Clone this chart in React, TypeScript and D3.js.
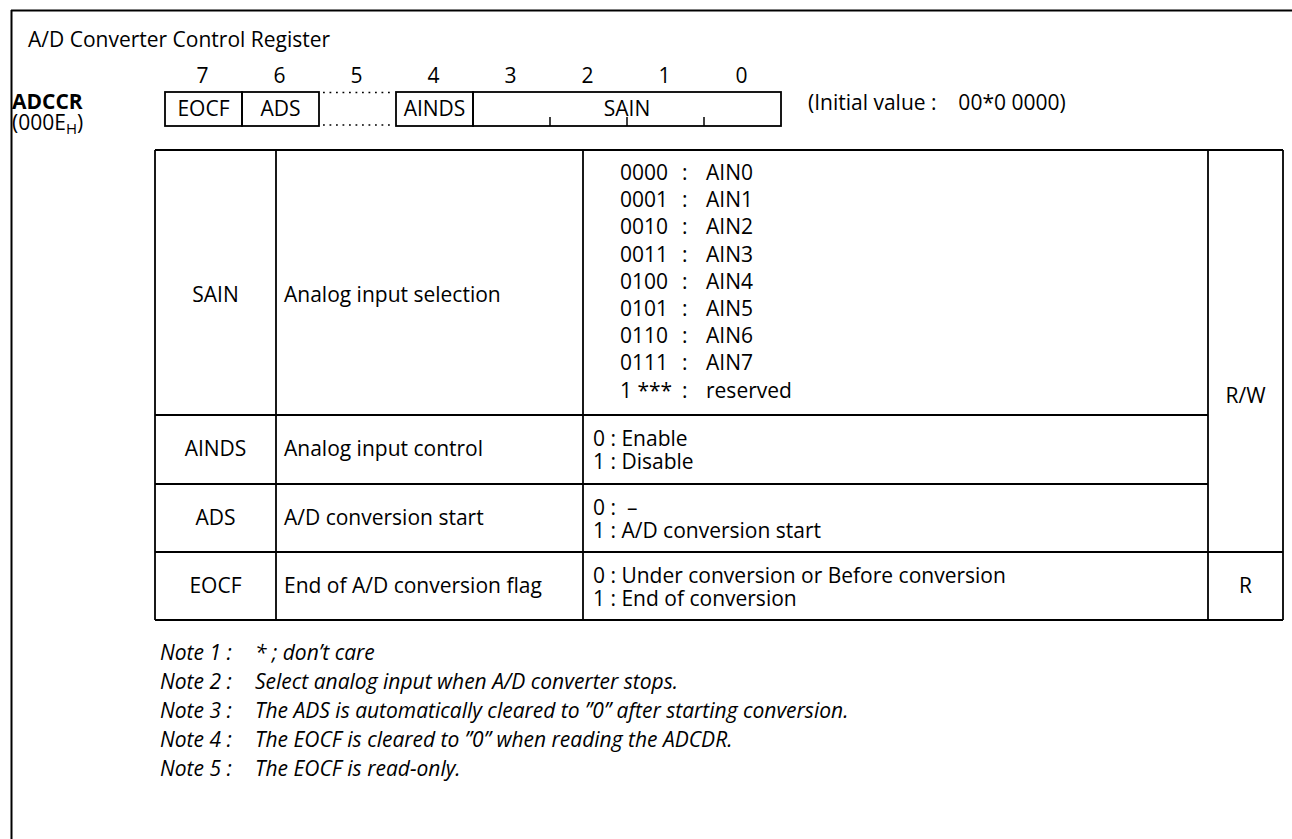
import React, { useEffect, useRef } from "react";
import * as d3 from "d3";

const title = "A/D Converter Control Register";
const registerName = "ADCCR";
const registerAddress = "000E";
const registerAddressSuffix = "H";
const initialValue = "(Initial value :    00*0 0000)";

const bitNumbers = [7, 6, 5, 4, 3, 2, 1, 0];

type Field = { name: string; msb: number; lsb: number };
const fields: Array<Field> = [
  { name: "EOCF", msb: 7, lsb: 7 },
  { name: "ADS", msb: 6, lsb: 6 },
  { name: "AINDS", msb: 4, lsb: 4 },
  { name: "SAIN", msb: 3, lsb: 0 },
];
const unusedBits = [5];

const sainCodes = ["0000", "0001", "0010", "0011", "0100", "0101", "0110", "0111", "1 ***"];
const sainInputs = ["AIN0", "AIN1", "AIN2", "AIN3", "AIN4", "AIN5", "AIN6", "AIN7", "reserved"];

const rowNames = ["SAIN", "AINDS", "ADS", "EOCF"];
const rowDescriptions = [
  "Analog input selection",
  "Analog input control",
  "A/D conversion start",
  "End of A/D conversion flag",
];
const rowOptions = [
  [],
  ["0 : Enable", "1 : Disable"],
  ["0 :  \u2013", "1 : A/D conversion start"],
  ["0 : Under conversion or Before conversion", "1 : End of conversion"],
];
const accessGroups = [
  { label: "R/W", from: 0, to: 2 },
  { label: "R", from: 3, to: 3 },
];

const noteLabels = ["Note 1 :", "Note 2 :", "Note 3 :", "Note 4 :", "Note 5 :"];
const noteTexts = [
  "* ; don\u2019t care",
  "Select analog input when A/D converter stops.",
  "The ADS is automatically cleared to \u201d0\u201d after starting conversion.",
  "The EOCF is cleared to \u201d0\u201d when reading the ADCDR.",
  "The EOCF is read-only.",
];

const W = 1292;
const H = 839;
const FONT = "'Open Sans', sans-serif";
const FS = 21;

const RegisterDiagram = () => {
  const svgRef = useRef<SVGSVGElement | null>(null);

  const draw = () => {
    const svg = d3.select(svgRef.current);
    svg.selectAll("*").remove();
    svg.style("font-family", FONT).style("font-size", `${FS}px`);

    // page frame (top + left rule)
    svg.append("line").attr("x1", 11).attr("x2", W).attr("y1", 10.5).attr("y2", 10.5)
      .attr("stroke", "#000").attr("stroke-width", 2);
    svg.append("line").attr("x1", 11.5).attr("x2", 11.5).attr("y1", 10).attr("y2", H)
      .attr("stroke", "#000").attr("stroke-width", 2);

    svg.append("text").attr("x", 28).attr("y", 47).text(title);

    // register bit layout
    const x = d3.scaleBand<number>().domain(bitNumbers).range([165, 781]);
    const boxTop = 92;
    const boxBottom = 126;

    svg.append("g").selectAll("text").data(bitNumbers).enter().append("text")
      .attr("x", (d) => x(d)! + x.bandwidth() / 2 - 1)
      .attr("y", 83)
      .attr("text-anchor", "middle")
      .text((d) => d);

    const fg = svg.append("g").selectAll("g").data(fields).enter().append("g");
    fg.append("rect")
      .attr("x", (d) => x(d.msb)!)
      .attr("y", boxTop)
      .attr("width", (d) => x(d.lsb)! + x.bandwidth() - x(d.msb)!)
      .attr("height", boxBottom - boxTop)
      .attr("fill", "none").attr("stroke", "#000").attr("stroke-width", 1.8);
    fg.append("text")
      .attr("x", (d) => (x(d.msb)! + x(d.lsb)! + x.bandwidth()) / 2)
      .attr("y", boxBottom - 10)
      .attr("text-anchor", "middle")
      .text((d) => d.name);
    // small ticks between bits of multi-bit fields
    fields.filter((f) => f.msb > f.lsb).forEach((f) => {
      const inner = d3.range(f.msb - 1, f.lsb - 1, -1);
      svg.append("g").selectAll("line").data(inner).enter().append("line")
        .attr("x1", (b) => x(b)!).attr("x2", (b) => x(b)!)
        .attr("y1", boxBottom).attr("y2", boxBottom - 9)
        .attr("stroke", "#000").attr("stroke-width", 1.5);
    });
    // dotted outline for unused bits
    unusedBits.forEach((b) => {
      [boxTop + 0.5, boxBottom - 1].forEach((yy) => {
        svg.append("line")
          .attr("x1", x(b)! + 4).attr("x2", x(b)! + x.bandwidth() - 3)
          .attr("y1", yy).attr("y2", yy)
          .attr("stroke", "#000").attr("stroke-width", 1.6)
          .attr("stroke-dasharray", "1.8,4.7");
      });
    });

    svg.append("text").attr("x", 12).attr("y", 109).attr("font-weight", "bold").text(registerName);
    const addr = svg.append("text").attr("x", 12).attr("y", 130);
    addr.append("tspan").text(`(${registerAddress}`);
    addr.append("tspan").attr("dy", 4).attr("font-size", 15).text(registerAddressSuffix);
    addr.append("tspan").attr("dy", -4).text(")");

    svg.append("text").attr("x", 808).attr("y", 110).style("white-space", "pre").text(initialValue);

    // description table
    const cols = [155, 276, 583, 1208, 1283];
    const rowHeights = [265, 69, 68, 68];
    const labelOffsets = [152, 41, 41, 41];
    const rowTops = [150, ...d3.cumsum(rowHeights).map((h) => 150 + h)];
    const rowIdx = d3.range(rowNames.length);
    const y = (i: number) => rowTops[i];
    const ln = (x1: number, y1: number, x2: number, y2: number) =>
      svg.append("line").attr("x1", x1).attr("y1", y1).attr("x2", x2).attr("y2", y2)
        .attr("stroke", "#000").attr("stroke-width", 1.8);

    ln(cols[0], y(0), cols[4], y(0));
    cols.forEach((c) => ln(c, y(0), c, y(rowNames.length)));
    rowIdx.slice(1).forEach((i) => ln(cols[0], y(i), cols[3], y(i)));
    accessGroups.forEach((g) => ln(cols[3], y(g.to + 1), cols[4], y(g.to + 1)));
    ln(cols[0], y(rowNames.length), cols[4], y(rowNames.length));

    const rows = svg.append("g").selectAll("g").data(rowIdx).enter().append("g");
    rows.append("text")
      .attr("x", (cols[0] + cols[1]) / 2)
      .attr("y", (i) => y(i) + labelOffsets[i])
      .attr("text-anchor", "middle")
      .text((i) => rowNames[i]);
    rows.append("text")
      .attr("x", cols[1] + 8)
      .attr("y", (i) => y(i) + labelOffsets[i])
      .text((i) => rowDescriptions[i]);
    rows.each(function (i) {
      const g = d3.select(this);
      rowOptions[i].forEach((t, k) => {
        g.append("text").attr("x", cols[2] + 10).attr("y", y(i) + 31 + k * 22.5)
          .style("white-space", "pre").text(t);
      });
    });

    const list = svg.append("g").selectAll("g").data(sainCodes).enter().append("g")
      .attr("transform", (_, k) => `translate(0, ${y(0) + 30 + k * 27.2})`);
    list.append("text").attr("x", 620).style("white-space", "pre").text((d) => d);
    list.append("text").attr("x", 682).text(":");
    list.append("text").attr("x", 706).text((_, k) => sainInputs[k]);

    svg.append("g").selectAll("text").data(accessGroups).enter().append("text")
      .attr("x", (cols[3] + cols[4]) / 2)
      .attr("y", (g) => (g.from === g.to ? y(g.from) + 41 : y(g.from + 1) - 12))
      .attr("text-anchor", "middle")
      .text((g) => g.label);

    const notes = svg.append("g").selectAll("g").data(noteLabels).enter().append("g")
      .attr("font-style", "italic")
      .attr("transform", (_, k) => `translate(0, ${660 + k * 29})`);
    notes.append("text").attr("x", 160).text((d) => d);
    notes.append("text").attr("x", 255).style("white-space", "pre").text((_, k) => noteTexts[k]);
  };

  useEffect(() => {
    draw();
  }, []);

  return (
    <svg
      ref={svgRef}
      width={W}
      height={H}
      style={{ position: "absolute", left: 0, top: 0, background: "#fff" }}
    />
  );
};

export default function App() {
  return <RegisterDiagram />;
}
